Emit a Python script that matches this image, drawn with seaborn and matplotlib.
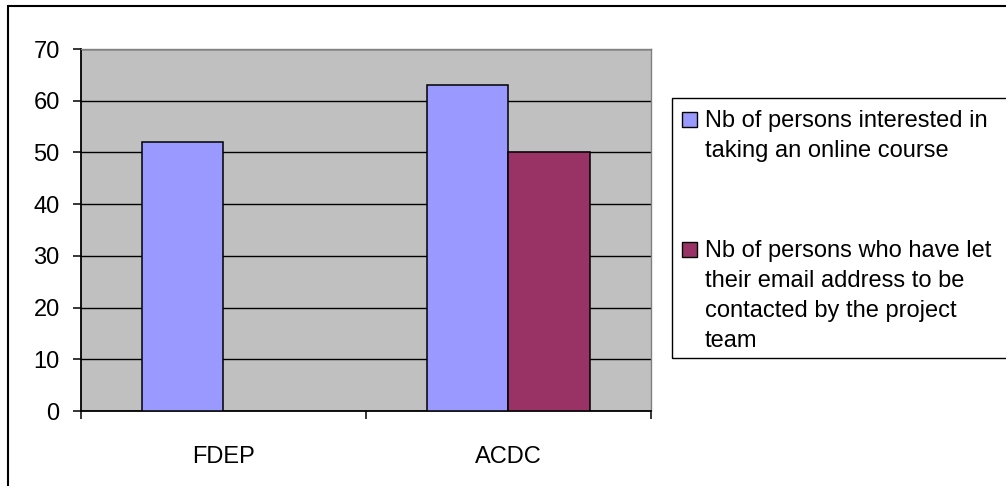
import pandas as pd
import matplotlib.pyplot as plt
import seaborn as sns
from matplotlib.patches import Rectangle

# chart data
sites = ["FDEP", "ACDC"]
interested = [52, 63]
email_left = [float("nan"), 50]
series_names = [
    "Nb of persons interested in\ntaking an online course",
    "Nb of persons who have let\ntheir email address to be\ncontacted by the project\nteam",
]
colors = ["#9999FF", "#993366"]
yticks = [0, 10, 20, 30, 40, 50, 60, 70]

df = pd.DataFrame({
    "site": sites * 2,
    "series": [series_names[0]] * 2 + [series_names[1]] * 2,
    "value": interested + email_left,
})

sns.set_style("white")
plt.rcParams["font.family"] = ["Liberation Sans", "DejaVu Sans"]
plt.rcParams["text.color"] = "black"
plt.rcParams["xtick.color"] = "black"
plt.rcParams["ytick.color"] = "black"
FS = 17

W, H = 1006, 486
fig = plt.figure(figsize=(W / 100, H / 100), dpi=100)
ax = fig.add_axes([80.5 / W, 1 - 411 / H, (651 - 80.5) / W, (411 - 49) / H])
ax.set_facecolor("#C0C0C0")

sns.barplot(data=df, x="site", y="value", hue="series", hue_order=series_names,
            palette=colors, saturation=1, width=0.57, gap=0, errorbar=None, legend=False,
            edgecolor="black", linewidth=1.1, ax=ax, zorder=3)

ax.set_ylim(0, 70)
ax.set_xlim(-0.5, 1.5)
ax.set_yticks(yticks)
ax.yaxis.grid(True, color="black", linewidth=1.0, zorder=1)
ax.set_axisbelow(True)
ax.set_xlabel("")
ax.set_ylabel("")

ax.set_xticks([0, 1])
ax.set_xticklabels(sites, fontsize=FS)
ax.set_xticks([-0.5, 0.5, 1.5], minor=True)
ax.tick_params(axis="x", which="major", length=0, pad=25)
ax.tick_params(axis="x", which="minor", length=6, width=1.1, direction="out", color="black")
ax.tick_params(axis="y", length=6, width=1.1, direction="out", color="black", pad=9, labelsize=FS)
ax.xaxis.set_ticks_position("bottom")
ax.yaxis.set_ticks_position("left")

for side in ["left", "bottom"]:
    ax.spines[side].set_color("black")
    ax.spines[side].set_linewidth(1.3)
for side in ["top", "right"]:
    ax.spines[side].set_color("#808080")
    ax.spines[side].set_linewidth(1.0)

# outer chart frame (cut off at right and bottom like the source)
fig.add_artist(Rectangle((8 / W, -0.1), 1.2, 1.1 - 6 / H, transform=fig.transFigure,
                         fill=False, edgecolor="black", linewidth=1.5))

# legend box, drawn by hand so the key sits beside the first text line
fig.add_artist(Rectangle((672 / W, 1 - 358 / H), 1.0, (358 - 98) / H, transform=fig.transFigure,
                         fill=False, edgecolor="black", linewidth=1.0))
first_baselines = [127, 257]
for name, col, base in zip(series_names, colors, first_baselines):
    fig.add_artist(Rectangle((682 / W, 1 - (base) / H), 15 / W, 15 / H,
                             transform=fig.transFigure, facecolor=col,
                             edgecolor="black", linewidth=1.0))
    for i, line in enumerate(name.split("\n")):
        fig.text(705 / W, 1 - (base + 30 * i) / H, line, fontsize=FS,
                 va="baseline", ha="left")

fig.savefig("out.png", dpi=100)
